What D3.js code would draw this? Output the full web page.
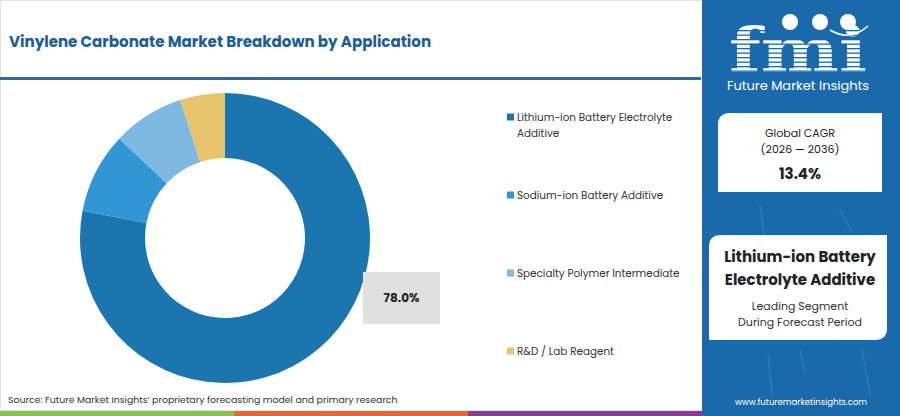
<!DOCTYPE html>
<html>
<head>
<meta charset="utf-8">
<script src="https://cdn.jsdelivr.net/npm/d3@7"></script>
<style>
  body { margin: 0; background: #fff; }
  svg { display: block; font-family: "Poppins", "Open Sans", "Noto Sans", sans-serif; }
</style>
</head>
<body>
<div class="chart"></div>
<script>
// data
var segments = ["Lithium-ion Battery Electrolyte Additive", "Sodium-ion Battery Additive", "Specialty Polymer Intermediate", "R&D / Lab Reagent"];
var shares = [78.0, 9.0, 8.0, 5.0];
var colors = ["#1b75af", "#3296d4", "#7db9e1", "#e8c46c"];
var legendLines = [["Lithium-ion Battery Electrolyte", "Additive"], ["Sodium-ion Battery Additive"], ["Specialty Polymer Intermediate"], ["R&D / Lab Reagent"]];
var cagr = "13.4%";
var period = "(2026 — 2036)";
var leader = ["Lithium-ion Battery", "Electrolyte Additive"];
var footColors = ["#8bc34a", "#e4673a", "#8a3b8f"];

document.addEventListener("DOMContentLoaded", function() {

  var w = 900, h = 416;
  var blue = "#1a6aab";

  var svg = d3.select(".chart")
              .append("svg")
              .attr("width", w)
              .attr("height", h);

  // left panel frame
  svg.append("rect")
     .attr("x", 0.5).attr("y", 0.5)
     .attr("width", 703).attr("height", 410)
     .attr("fill", "#fff")
     .attr("stroke", "#e3e3e3");

  svg.append("text")
     .attr("x", 9).attr("y", 47)
     .attr("fill", "#1a5e96")
     .attr("font-size", 15.1)
     .attr("font-weight", 700)
     .text("Vinylene Carbonate Market Breakdown by Application");

  svg.append("rect")
     .attr("x", 0).attr("y", 77)
     .attr("width", 701).attr("height", 3)
     .attr("fill", "#1f6fae");

  // donut
  var cx = 225, cy = 238;
  var pie = d3.pie().sort(null).value(function(d){ return d; });
  var arc = d3.arc().innerRadius(80).outerRadius(145);
  var g = svg.append("g").attr("transform", "translate(" + cx + "," + cy + ")");
  g.selectAll("path")
   .data(pie(shares))
   .enter().append("path")
   .attr("d", arc)
   .attr("fill", function(d, i){ return colors[i]; });

  // value box for the leading slice
  svg.append("rect")
     .attr("x", 363).attr("y", 272)
     .attr("width", 77).attr("height", 52)
     .attr("fill", "#e0e0e0");
  svg.append("text")
     .attr("x", 401.5).attr("y", 302)
     .attr("text-anchor", "middle")
     .attr("font-size", 12)
     .attr("font-weight", 700)
     .attr("fill", "#222")
     .text(d3.format(".1f")(shares[0]) + "%");

  // legend
  var legendY = d3.scalePoint().domain(segments).range([121, 355]);
  var leg = svg.selectAll(".leg")
               .data(segments)
               .enter().append("g")
               .attr("class", "leg")
               .attr("transform", function(d){ return "translate(507," + legendY(d) + ")"; });
  leg.append("rect")
     .attr("x", 0).attr("y", -7.5)
     .attr("width", 7).attr("height", 7)
     .attr("fill", function(d, i){ return colors[i]; });
  leg.each(function(d, i) {
    d3.select(this).selectAll("text")
      .data(legendLines[i])
      .enter().append("text")
      .attr("x", 10)
      .attr("y", function(t, j){ return j * 15.5; })
      .attr("font-size", 10.4)
      .attr("fill", "#333")
      .text(function(t){ return t; });
  });

  svg.append("text")
     .attr("x", 8).attr("y", 403)
     .attr("font-size", 9.4)
     .attr("fill", "#333")
     .text("Source: Future Market Insights\u2019 proprietary forecasting model and primary research");

  // footer bars
  svg.selectAll(".foot")
     .data(footColors)
     .enter().append("rect")
     .attr("x", function(d, i){ return i * 234; })
     .attr("y", 411)
     .attr("width", 234).attr("height", 5)
     .attr("fill", function(d){ return d; });

  // right panel
  svg.append("rect")
     .attr("x", 702).attr("y", 0)
     .attr("width", 198).attr("height", h)
     .attr("fill", blue);

  // faint decorative strokes
  var streaks = [[760, 205, 765, 240], [840, 210, 852, 232], [768, 355, 772, 395], [862, 350, 870, 395], [800, 350, 805, 372]];
  svg.selectAll(".streak")
     .data(streaks)
     .enter().append("line")
     .attr("x1", function(d){ return d[0]; }).attr("y1", function(d){ return d[1]; })
     .attr("x2", function(d){ return d[2]; }).attr("y2", function(d){ return d[3]; })
     .attr("stroke", "#ffffff").attr("stroke-opacity", 0.18)
     .attr("stroke-width", 0.8);

  // logo
  var logo = svg.append("g");
  logo.append("text")
      .attr("x", 729).attr("y", 72)
      .attr("font-family", "DejaVu Serif, serif")
      .attr("font-weight", 700)
      .attr("font-size", 62)
      .attr("textLength", 138)
      .attr("lengthAdjust", "spacingAndGlyphs")
      .attr("fill", "#fff")
      .text("fmi");
  logo.selectAll(".stripe")
      .data(d3.range(30, 74, 4.5))
      .enter().append("rect")
      .attr("x", 726).attr("y", function(d){ return d; })
      .attr("width", 146).attr("height", 1.3)
      .attr("fill", blue);
  logo.selectAll(".globe")
      .data([790, 820, 848])
      .enter().append("circle")
      .attr("cx", function(d){ return d; }).attr("cy", 22)
      .attr("r", 8)
      .attr("fill", "#fff");
  logo.append("path")
      .attr("d", "M830,30 Q850,42 868,26")
      .attr("fill", "none")
      .attr("stroke", "#fff")
      .attr("stroke-width", 1.5);
  logo.append("text")
      .attr("x", 798).attr("y", 90)
      .attr("text-anchor", "middle")
      .attr("font-size", 13)
      .attr("fill", "#fff")
      .text("Future Market Insights");

  // CAGR card
  svg.append("path")
     .attr("d", "M730,113 H882 V192 H718 V125 Q718,113 730,113 Z")
     .attr("fill", "#fff");
  svg.append("text").attr("x", 800).attr("y", 137).attr("text-anchor", "middle")
     .attr("font-size", 11).attr("fill", "#222").text("Global CAGR");
  svg.append("text").attr("x", 800).attr("y", 153).attr("text-anchor", "middle")
     .attr("font-size", 11).attr("fill", "#222").text(period);
  svg.append("text").attr("x", 800).attr("y", 179).attr("text-anchor", "middle")
     .attr("font-size", 15).attr("font-weight", 700).attr("fill", "#222").text(cagr);

  // leading segment card
  svg.append("path")
     .attr("d", "M721,235 H887 V328 Q887,340 875,340 H709 V247 Q709,235 721,235 Z")
     .attr("fill", "#fff");
  svg.selectAll(".lead")
     .data(leader)
     .enter().append("text")
     .attr("x", 800).attr("y", function(d, i){ return 262 + i * 23; })
     .attr("text-anchor", "middle")
     .attr("font-size", 15).attr("font-weight", 700).attr("fill", "#222")
     .text(function(d){ return d; });
  svg.append("text").attr("x", 800).attr("y", 310).attr("text-anchor", "middle")
     .attr("font-size", 11).attr("fill", "#333").text("Leading Segment");
  svg.append("text").attr("x", 800).attr("y", 326).attr("text-anchor", "middle")
     .attr("font-size", 11).attr("fill", "#333").text("During Forecast Period");

  svg.append("text").attr("x", 801).attr("y", 405).attr("text-anchor", "middle")
     .attr("font-size", 8.5).attr("fill", "#fff").text("www.futuremarketinsights.com");
});
</script>
</body>
</html>
